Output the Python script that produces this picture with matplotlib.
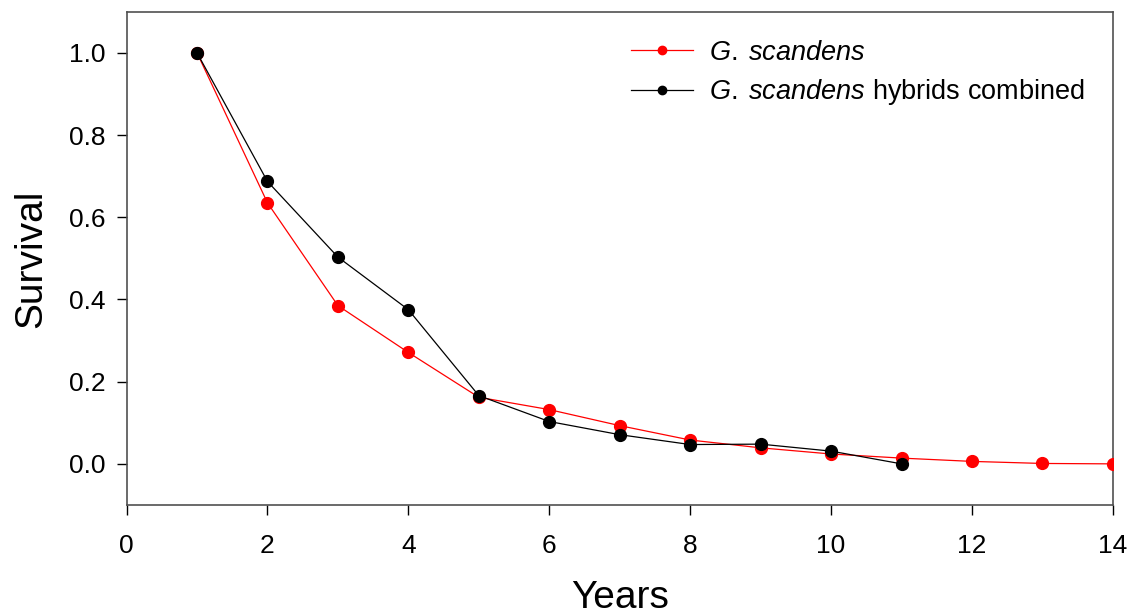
import numpy as np
import matplotlib
matplotlib.use("Agg")
from matplotlib import pyplot as plt

# survival curves
years_scandens = [1, 2, 3, 4, 5, 6, 7, 8, 9, 10, 11, 12, 13, 14]
surv_scandens = [1.0, 0.635, 0.385, 0.271, 0.162, 0.132, 0.093, 0.058, 0.039, 0.024, 0.014, 0.006, 0.001, 0.0]

years_hybrid = [1, 2, 3, 4, 5, 6, 7, 8, 9, 10, 11]
surv_hybrid = [1.0, 0.687, 0.503, 0.375, 0.166, 0.103, 0.071, 0.047, 0.048, 0.031, 0.0]

x_ticks = [0, 2, 4, 6, 8, 10, 12, 14]
y_ticks = [0.0, 0.2, 0.4, 0.6, 0.8, 1.0]

plt.rcParams['font.family'] = ['Liberation Sans', 'DejaVu Sans']
plt.rcParams['mathtext.fontset'] = 'custom'
plt.rcParams['mathtext.it'] = 'Liberation Sans:italic'
plt.rcParams['mathtext.rm'] = 'Liberation Sans'

fig = plt.figure(figsize=(11.33, 6.15), dpi=100)
ax = fig.add_axes([0.1117, 0.1789, 0.8706, 0.8021])

ax.plot(years_scandens, surv_scandens, color='red', lw=0.9, marker='o', ms=8.5,
        label=r'$\it{G.\;scandens}$', zorder=3)
ax.plot(years_hybrid, surv_hybrid, color='black', lw=0.9, marker='o', ms=8.5,
        label=r'$\it{G.\;scandens}$ hybrids combined', zorder=4)

ax.set_xlim(0, 14)
ax.set_ylim(-0.1, 1.1)
ax.set_xticks(x_ticks)
ax.set_yticks(y_ticks)
ax.set_yticklabels(['%.1f' % v for v in y_ticks])
ax.tick_params(direction='out', length=7, width=1, labelsize=19, color='black')
ax.tick_params(axis='x', pad=14)
ax.tick_params(axis='y', pad=8)

for s in ax.spines.values():
    s.set_color('#505050')
    s.set_linewidth(1.2)

ax.set_xlabel('Years', fontsize=28, labelpad=16)
ax.set_ylabel('Survival', fontsize=28, labelpad=14)

leg = ax.legend(loc='upper left', bbox_to_anchor=(0.5, 0.965), frameon=False,
                fontsize=19.5, handlelength=2.3, handletextpad=0.6, labelspacing=0.42,
                borderaxespad=0)
for h in leg.legend_handles:
    h.set_markersize(6)

fig.savefig('out.png', dpi=100)
